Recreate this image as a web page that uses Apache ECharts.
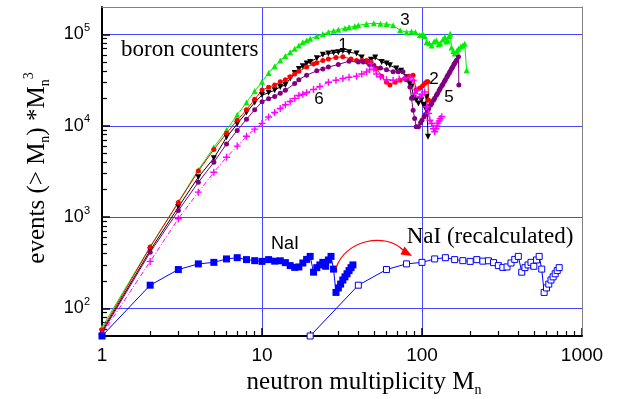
<!DOCTYPE html>
<html>
<head>
<meta charset="utf-8">
<script src="https://cdn.jsdelivr.net/npm/echarts@6/dist/echarts.min.js"></script>
<style>
html,body{margin:0;padding:0;background:#fff;}
#chart{width:617px;height:399px;}
</style>
</head>
<body>
<div id="chart"></div>
<script>
// ---- tick values ----
var xMajorTicks = [1, 10, 100, 1000];
var xTickLabels = ['1', '10', '100', '1000'];
var xMinorTicks = [2,3,4,5,6,7,8,9,20,30,40,50,60,70,80,90,200,300,400,500,600,700,800,900];
var yMajorTicks = [100, 1000, 10000, 100000];
var yTickExponents = ['2', '3', '4', '5'];
var yMinorTicks = [50,60,70,80,90,200,300,400,500,600,700,800,900,2000,3000,4000,5000,6000,7000,8000,9000,20000,30000,40000,50000,60000,70000,80000,90000];

// ---- series 1 (black) ----
var s1X = [1,2,3,4,5,6,7,8,9,10,11,12,13,14,15,16,17,18,19,20,22,24,26,28,30,32,35,39,42,45,48,51,56,60,63,69,74,80,84,86,89,92,95,99,102,104,107,109];
var s1Y = [56,433,1290,2740,4420,7480,10500,14000,18000,21700,23000,24500,26700,28000,33000,38000,42000,45000,48000,50000,55000,60000,62000,63000,64000,66000,64000,62000,56000,50000,53000,56000,50000,48000,46000,42500,40000,34000,29000,27000,20000,19000,17600,19000,17000,16000,20800,7600];

// ---- series 2 (red) ----
var s2X = [1,2,3,4,5,6,7,8,9,10,11,12,13,14,15,16,17,19,21,22,24,26,29,32,36,39,42,45,48,52,56,60,63,68,73,78,83,88,92,97,101,104,107,109,110];
var s2Y = [58,470,1450,3200,5500,8300,11500,15000,19500,24600,26500,28000,30300,32000,34500,37000,39500,44000,47500,49000,52000,54000,56000,57000,54000,52000,52000,52000,50000,42500,35000,30000,28000,30000,31600,33000,35000,35900,24600,26000,27500,29000,30300,30300,19000];

// ---- series 3 (green) ----
var s3X = [1,2,3,4,5,6,7,8,9,10,11,12,13,14,15,16,17,18,19,20,22,24,26,28,30,33,35,38,40,45,50,55,60,66,73,80,86,91,97,101,104,107,111,115,119,123,127,130,135,139,142,145,148,150,153,157,160,165,169,175,180,185,190];
var s3Y = [62,475,1470,3290,5820,8990,13200,18000,24000,30300,38000,45000,52000,58000,64000,70000,76000,82000,86000,90000,96000,101000,106000,110000,113000,117000,120000,123000,126000,130000,133000,131000,130000,126000,111000,106000,108000,106000,98000,102000,96000,83000,80000,76000,84000,86000,78000,80000,88000,94000,84000,86000,96000,102000,72000,66000,62000,66000,70000,74000,76000,79000,40600];

// ---- series 5 (purple) ----
var s5X = [1,2,3,4,5,6,7,8,9,10,11,12,13,14,16,17,19,22,24,26,30,35,40,43,47,50,55,60,66,71,76,80,84,86,88,90,92,95,98,100,103,105,108,110,113,115,118,120,123,125,128,130,133,135,138,140,143,145,148,150,153,155,158,160,163,165,169,170];
var s5Y = [54,412,1180,2410,3990,6330,8900,11800,15000,18300,19800,21000,22700,24500,29000,32000,35900,40000,42000,44000,47000,51000,50000,50000,47000,46000,43000,41000,39000,39000,39000,32000,26700,20000,14800,12000,9800,9800,10800,11500,12600,13300,14600,15400,16800,17600,19000,20000,21600,22600,24300,25600,27400,28500,30500,32000,34200,35800,38000,39700,42200,43800,46500,48300,51000,52500,57000,28000];

// ---- series 6 (magenta) ----
var s6X = [1,2,3,4,5,6,7,8,9,10,11,12,13,14,15,16,17,18,19,21,23,26,29,32,35,39,42,45,47,48,50,52,55,60,66,72,78,84,88,90,93,97,100,104,107,110,112,115,118,120,122,124,126,128,130,133];
var s6Y = [52,328,962,1880,3100,4530,6000,7700,9200,10650,12500,14000,15500,17000,18500,20000,21500,22200,23000,25000,27000,30000,31500,33000,34000,35000,37000,39000,41000,48000,42000,37000,34400,32000,31600,32500,33000,34000,31600,22600,24600,20800,22000,23500,16200,13700,11500,10600,9300,8600,9300,10000,10700,11300,12000,12600];

// ---- NaI ----
var naiX = [1,2,3,4,5,6,7,8,9,10,11,12,13,14,15,16,17,18,19,20,21,22,23,24,25,26,27,28,29,30,31,32,33,34,35,36,37];
var naiY = [50,180,267,308,320,349,360,343,334,328,343,330,333,318,295,282,285,315,345,372,250,280,300,320,290,340,372,270,150,168,185,205,222,240,260,280,300];

// ---- NaI (recalculated) ----
var recX = [20,40,60,80,100,120,140,160,180,200,220,240,260,280,300,320,340,360,380,400,420,440,460,480,500,520,540,560,580,600,620,640,660,680,700,720];
var recY = [50,180,267,308,320,349,360,343,334,328,343,330,333,318,295,282,285,315,345,372,250,280,300,320,290,340,372,270,150,168,185,205,222,240,260,280];

function pairs(xs, ys) { return xs.map(function (x, i) { return [x, ys[i]]; }); }

var SANS = '"Liberation Sans", Arial, sans-serif';
var SERIF = '"Liberation Serif", "Times New Roman", serif';
var PLUS = 'path://M4,0H6V4H10V6H6V10H4V6H0V4H4Z';

var chart = echarts.init(document.getElementById('chart'), null, {renderer: 'canvas'});

var gridRect = {left: 102, top: 7, width: 480, height: 329};

function lineSeries(name, data, color, symbol, size, opts) {
  var s = {
    name: name, type: 'line', xAxisIndex: 0, yAxisIndex: 0,
    data: data, symbol: symbol, symbolSize: size,
    showSymbol: true, showAllSymbol: true,
    itemStyle: {color: color},
    lineStyle: {color: color, width: 1},
    emphasis: {disabled: true},
    z: 3
  };
  if (opts) for (var k in opts) s[k] = opts[k];
  return s;
}

function labelFor(list, labels, v) {
  for (var i = 0; i < list.length; i++) { if (Math.abs(list[i] - v) / list[i] < 1e-6) return labels[i]; }
  return '';
}

var option = {
  animation: false,
  backgroundColor: '#ffffff',
  grid: [
    Object.assign({}, gridRect),
    Object.assign({}, gridRect)
  ],
  xAxis: [
    {
      gridIndex: 0, type: 'log', logBase: 10, min: 1, max: 1000, position: 'bottom',
      axisLine: {show: false},
      axisTick: {show: true, inside: true, length: 8, customValues: xMajorTicks, lineStyle: {color: '#000', width: 1.5}},
      axisLabel: {customValues: xMajorTicks, color: '#000', fontSize: 19, fontFamily: SANS, margin: 10,
        formatter: function (v) { return labelFor(xMajorTicks, xTickLabels, v); }},
      splitLine: {show: true, lineStyle: {color: '#4646ff', width: 1}},
      z: 0
    },
    {
      gridIndex: 1, type: 'log', logBase: 10, min: 1, max: 1000, position: 'bottom',
      axisLine: {show: true, lineStyle: {color: '#000', width: 2}},
      axisTick: {show: true, inside: true, length: 5, customValues: xMinorTicks, lineStyle: {color: '#000', width: 1.2}},
      axisLabel: {show: false},
      splitLine: {show: false},
      z: 1
    },
    {
      gridIndex: 1, type: 'log', logBase: 10, min: 1, max: 1000, position: 'top',
      axisLine: {show: true, lineStyle: {color: '#808080', width: 1}},
      axisTick: {show: false}, axisLabel: {show: false}, splitLine: {show: false},
      z: 1
    }
  ],
  yAxis: [
    {
      gridIndex: 0, type: 'log', logBase: 10, min: 50, max: 200000, position: 'left',
      axisLine: {show: false},
      axisTick: {show: true, inside: true, length: 8, customValues: yMajorTicks, lineStyle: {color: '#000', width: 1.5}},
      axisLabel: {
        customValues: yMajorTicks, color: '#000', fontSize: 18, fontFamily: SANS, margin: 12, lineHeight: 24,
        formatter: function (v) { return '10{sup|' + labelFor(yMajorTicks, yTickExponents, v) + '}'; },
        rich: {sup: {fontSize: 11, fontFamily: SANS, color: '#000', verticalAlign: 'top', lineHeight: 12}}
      },
      splitLine: {show: true, lineStyle: {color: '#4646ff', width: 1}},
      z: 0
    },
    {
      gridIndex: 1, type: 'log', logBase: 10, min: 50, max: 200000, position: 'left',
      axisLine: {show: true, lineStyle: {color: '#000', width: 2}},
      axisTick: {show: true, inside: true, length: 5, customValues: yMinorTicks, lineStyle: {color: '#000', width: 1.2}},
      axisLabel: {show: false},
      splitLine: {show: false},
      z: 1
    },
    {
      gridIndex: 1, type: 'log', logBase: 10, min: 50, max: 200000, position: 'right',
      axisLine: {show: true, lineStyle: {color: '#808080', width: 1}},
      axisTick: {show: false}, axisLabel: {show: false}, splitLine: {show: false},
      z: 1
    }
  ],
  series: [
    lineSeries('3', pairs(s3X, s3Y), '#00ee00', 'triangle', 6),
    lineSeries('1', pairs(s1X, s1Y), '#000000', 'triangle', 6, {symbolRotate: 180}),
    lineSeries('2', pairs(s2X, s2Y), '#ff0000', 'circle', 5),
    lineSeries('5', pairs(s5X, s5Y), '#800080', 'circle', 5),
    lineSeries('6', pairs(s6X, s6Y), '#ff00ff', PLUS, 7, {lineStyle: {color: '#ff00ff', width: 1, type: [5, 2, 1, 2]}}),
    lineSeries('NaI', pairs(naiX, naiY), '#0000ff', 'rect', 7),
    lineSeries('NaI (recalculated)', pairs(recX, recY), '#0000ff', 'rect', 6,
      {itemStyle: {color: '#ffffff', borderColor: '#0000ff', borderWidth: 1}})
  ],
  graphic: [
    {type: 'text', left: 121, top: 38, z: 10, style: {text: 'boron counters', font: '23px ' + SERIF, fill: '#000'}},
    {type: 'text', x: 343, y: 45, z: 10, style: {text: '1', font: '17px ' + SANS, fill: '#000', align: 'center', verticalAlign: 'middle'}},
    {type: 'text', x: 434, y: 79, z: 10, style: {text: '2', font: '17px ' + SANS, fill: '#000', align: 'center', verticalAlign: 'middle'}},
    {type: 'text', x: 405, y: 20, z: 10, style: {text: '3', font: '17px ' + SANS, fill: '#000', align: 'center', verticalAlign: 'middle'}},
    {type: 'text', x: 449, y: 97, z: 10, style: {text: '5', font: '17px ' + SANS, fill: '#000', align: 'center', verticalAlign: 'middle'}},
    {type: 'text', x: 319, y: 99, z: 10, style: {text: '6', font: '17px ' + SANS, fill: '#000', align: 'center', verticalAlign: 'middle'}},
    {type: 'text', x: 285, y: 244, z: 10, style: {text: 'NaI', font: '18px ' + SANS, fill: '#000', align: 'center', verticalAlign: 'middle'}},
    {type: 'text', x: 490, y: 237, z: 10, style: {text: 'NaI (recalculated)', font: '23px ' + SERIF, fill: '#000', align: 'center', verticalAlign: 'middle'}},
    {type: 'bezierCurve', z: 10, shape: {x1: 336, y1: 268, cpx1: 345, cpy1: 240, cpx2: 385, cpy2: 232, x2: 403, y2: 250},
      style: {stroke: '#ff0000', lineWidth: 1.2, fill: null}},
    {type: 'polygon', z: 10, shape: {points: [[412, 256], [400.5, 254.5], [404.5, 246.5]]}, style: {fill: '#ff0000'}},
    {type: 'text', x: 364, y: 382, z: 10, style: {
      text: 'neutron multiplicity M{sub|n}', font: '25px ' + SERIF, fill: '#000', align: 'center', verticalAlign: 'middle',
      lineHeight: 30,
      rich: {sub: {font: '14px ' + SERIF, fill: '#000', verticalAlign: 'bottom', lineHeight: 14}}
    }},
    {type: 'text', x: 37, y: 168, rotation: Math.PI / 2, z: 10, style: {
      text: 'events (> M{sub|n}) *M{sub|n}{sup|3}', font: '25px ' + SERIF, fill: '#000', align: 'center', verticalAlign: 'middle',
      lineHeight: 30,
      rich: {
        sub: {font: '14px ' + SERIF, fill: '#000', verticalAlign: 'bottom', lineHeight: 14},
        sup: {font: '14px ' + SERIF, fill: '#000', verticalAlign: 'top', lineHeight: 14}
      }
    }}
  ]
};
chart.setOption(option);
</script>
</body>
</html>
